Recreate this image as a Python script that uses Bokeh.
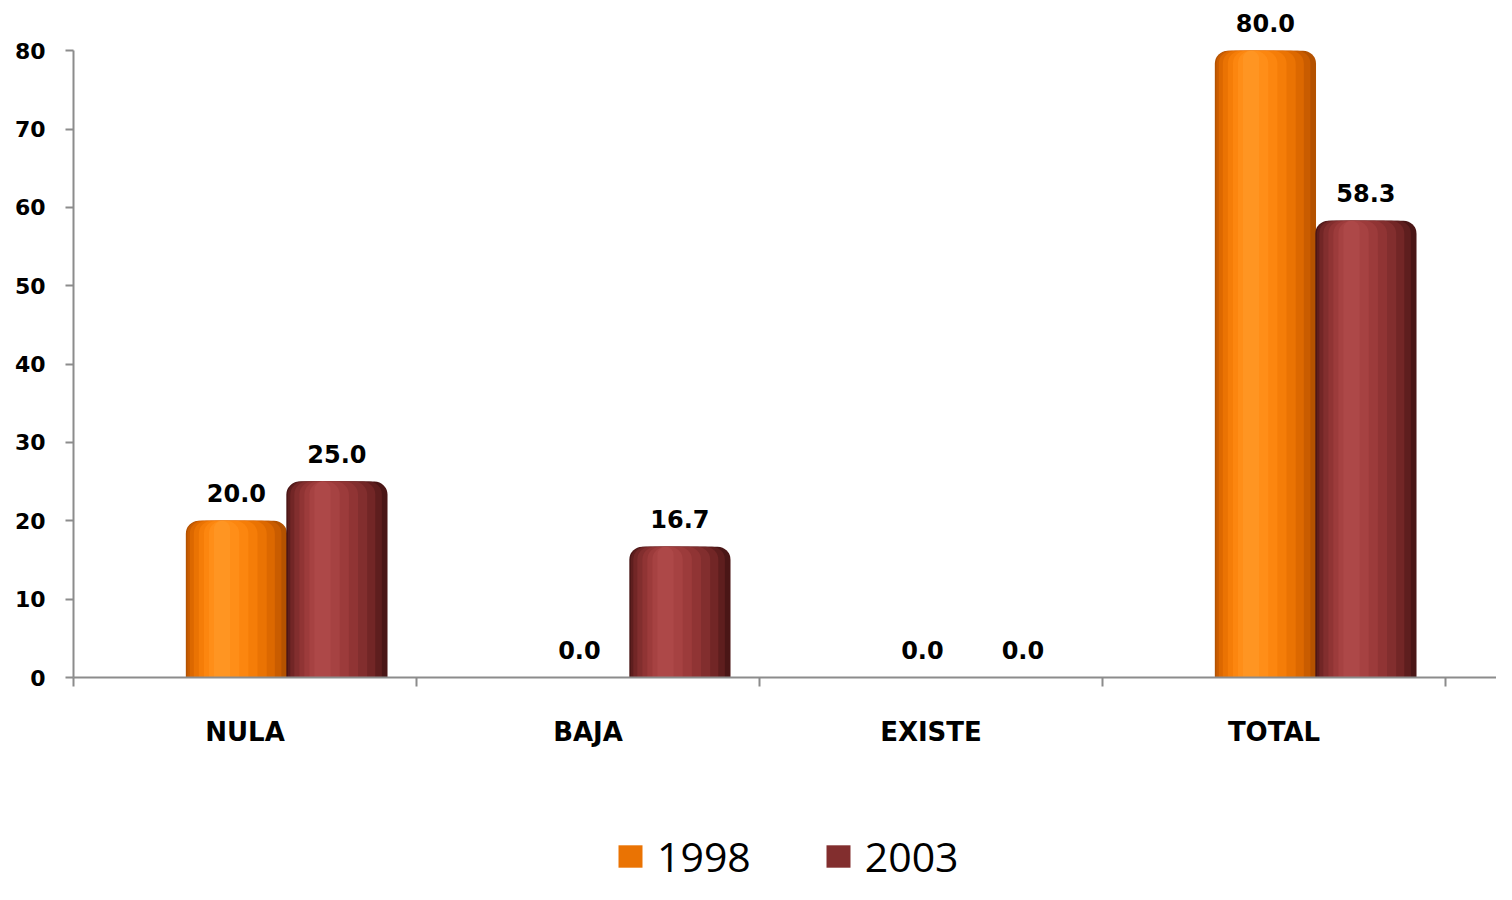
from bokeh.plotting import figure
from bokeh.layouts import column
from bokeh.models import Range1d, FixedTicker, Legend, LegendItem, ColumnDataSource
from bokeh.core.properties import value
from bokeh.embed import file_html
from bokeh.resources import INLINE

categories = ["NULA", "BAJA", "EXISTE", "TOTAL"]
series_names = ["1998", "2003"]
values_1998 = [20.0, 0.0, 0.0, 80.0]
values_2003 = [25.0, 16.7, 0.0, 58.3]
y_ticks = [0, 10, 20, 30, 40, 50, 60, 70, 80]

W = 0.295
OFF = {"1998": 0.475, "2003": 0.768}
SHADES = {
    "1998": [(1.0, "#b45200"), (0.93, "#c95c00"), (0.84, "#dc6800"), (0.72, "#ea7303"),
             (0.58, "#f57d08"), (0.44, "#fc860f"), (0.30, "#ff8e18"), (0.16, "#ff9522")],
    "2003": [(1.0, "#4a1616"), (0.93, "#5e1e1e"), (0.84, "#722626"), (0.72, "#822e2e"),
             (0.58, "#903434"), (0.44, "#9c3b3b"), (0.30, "#a64242"), (0.16, "#ad4848")],
}
CENTER_SHIFT = -0.006
MAIN_H = 810
LEG_H = 884 - MAIN_H

p = figure(width=1496, height=MAIN_H, output_backend="svg", toolbar_location=None,
           x_range=Range1d(0, 1423 / 343), y_range=Range1d(0, 85),
           min_border_left=73, min_border_right=0, min_border_top=11,
           min_border_bottom=MAIN_H - 677,
           background_fill_color="white", border_fill_color="white")
p.outline_line_color = None
p.xgrid.grid_line_color = None
p.ygrid.grid_line_color = None

legend_colors = {}
for name, vals in (("1998", values_1998), ("2003", values_2003)):
    for k, (frac, col) in enumerate(SHADES[name]):
        shift = 0 if k == 0 else CENTER_SHIFT * k
        xs = [i + OFF[name] + shift for i in range(len(categories))]
        src = ColumnDataSource(dict(x=xs, top=vals))
        p.vbar(x="x", top="top", width=W * frac, source=src, fill_color=col,
               line_color=None, border_radius=(13, 13, 0, 0))
    legend_colors[name] = SHADES[name][3][1]
    lab = ColumnDataSource(dict(x=[i + OFF[name] for i in range(len(categories))], y=vals,
                                t=["%.1f" % v for v in vals]))
    p.text(x="x", y="y", text="t", source=lab, text_align="center", text_baseline="middle",
           y_offset=-28, text_font=value("DejaVu Sans"), text_font_style="bold",
           text_font_size="24px", text_color="black")

# y axis
ya = p.yaxis[0]
ya.ticker = FixedTicker(ticks=y_ticks)
ya.bounds = (0, 80)
ya.axis_line_color = "#8c8c8c"
ya.axis_line_width = 2
ya.major_tick_line_color = "#8c8c8c"
ya.major_tick_line_width = 2
ya.major_tick_in = 0
ya.major_tick_out = 8
ya.minor_tick_line_color = None
ya.major_label_standoff = 20
ya.major_label_text_font = "DejaVu Sans"
ya.major_label_text_font_style = "bold"
ya.major_label_text_font_size = "22px"
ya.major_label_text_color = "black"

# x axis
xa = p.xaxis[0]
centers = [i + 0.5 for i in range(len(categories))]
xa.ticker = FixedTicker(ticks=centers, minor_ticks=list(range(len(categories) + 1)))
xa.major_label_overrides = {c: n for c, n in zip(centers, categories)}
xa.axis_line_color = "#8c8c8c"
xa.axis_line_width = 2
xa.major_tick_line_color = None
xa.major_tick_in = 0
xa.major_tick_out = 0
xa.minor_tick_line_color = "#8c8c8c"
xa.minor_tick_line_width = 2
xa.minor_tick_in = 0
xa.minor_tick_out = 9
xa.major_label_standoff = 30
xa.major_label_text_font = "DejaVu Sans"
xa.major_label_text_font_style = "bold"
xa.major_label_text_font_size = "26px"
xa.major_label_text_color = "black"

# legend in its own strip (zero-height proxy bars carry the legend colours)
lf = figure(width=1496, height=LEG_H, output_backend="svg", toolbar_location=None,
            x_range=Range1d(0, 1), y_range=Range1d(0, 1),
            min_border_left=0, min_border_right=0, min_border_top=0, min_border_bottom=0,
            background_fill_color="white", border_fill_color="white")
lf.axis.visible = False
lf.grid.visible = False
lf.outline_line_color = None
items = []
for name in series_names:
    r = lf.vbar(x=[0.5], top=[0], bottom=[0], width=0.0, fill_color=legend_colors[name],
                line_color=None)
    items.append(LegendItem(label=name, renderers=[r]))
legend = Legend(items=items, location=(542, 0), orientation="horizontal",
                padding=0, margin=0, spacing=72, label_standoff=12,
                glyph_width=30, glyph_height=28,
                label_text_font="Open Sans", label_text_font_size="41px", label_text_color="black",
                border_line_color=None, background_fill_alpha=0)
lf.add_layout(legend, "center")

layout = column(p, lf, spacing=0)
open("out.html", "w").write(file_html(layout, INLINE))
